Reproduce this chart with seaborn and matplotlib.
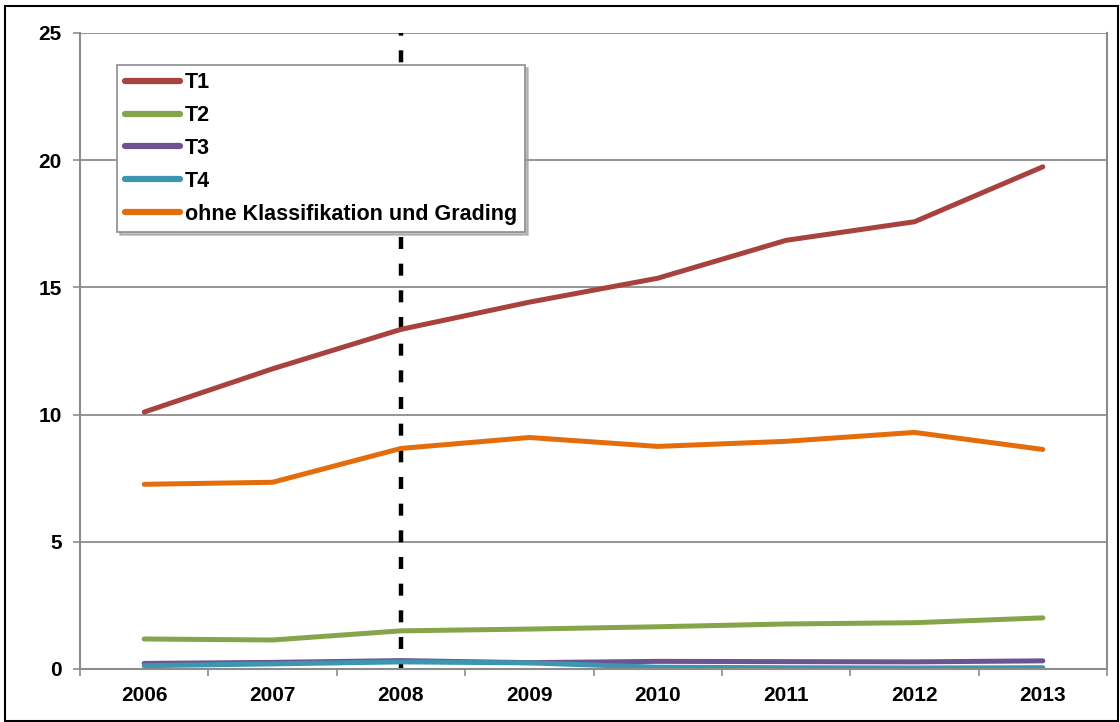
import matplotlib
matplotlib.use("Agg")
import matplotlib.pyplot as plt
import seaborn as sns
import pandas as pd
from matplotlib.patches import Rectangle
from matplotlib.ticker import FixedLocator

years = ["2006", "2007", "2008", "2009", "2010", "2011", "2012", "2013"]
t1 = [10.1, 11.8, 13.35, 14.42, 15.36, 16.85, 17.58, 19.74]
t2 = [1.18, 1.14, 1.50, 1.57, 1.66, 1.77, 1.82, 2.01]
t3 = [0.22, 0.26, 0.33, 0.25, 0.30, 0.29, 0.28, 0.32]
t4 = [0.13, 0.20, 0.28, 0.24, 0.07, 0.05, 0.04, 0.05]
ohne = [7.26, 7.34, 8.67, 9.10, 8.75, 8.95, 9.30, 8.63]
series_names = ["T1", "T2", "T3", "T4", "ohne Klassifikation und Grading"]
marker_year = "2008"

colors = ["#A8423F", "#86A44A", "#6E5393", "#3C96B0", "#E46C0A"]

sns.set_style("white")
plt.rcParams["font.family"] = ["Liberation Sans", "DejaVu Sans"]
plt.rcParams["font.weight"] = "bold"

rows = []
for name, vals in zip(series_names, [t1, t2, t3, t4, ohne]):
    for y, v in zip(years, vals):
        rows.append({"Jahr": y, "Wert": v, "Serie": name})
df = pd.DataFrame(rows)

fig = plt.figure(figsize=(11.2, 7.22), dpi=100)
ax = fig.add_axes([80 / 1120, 1 - 669 / 722, (1107 - 80) / 1120, (669 - 33) / 722])

sns.lineplot(data=df, x="Jahr", y="Wert", hue="Serie", hue_order=series_names,
             palette=colors, linewidth=3.6, ax=ax, sort=False,
             solid_capstyle="round", legend=True)

ax.set_xlim(-0.5, len(years) - 0.5)
ax.set_ylim(0, 25)
ax.set_yticks([0, 5, 10, 15, 20, 25])
ax.set_xticks(range(len(years)))
ax.set_xticklabels(years)
ax.xaxis.set_minor_locator(FixedLocator([i + 0.5 for i in range(-1, len(years))]))
ax.set_xlabel("")
ax.set_ylabel("")

# vertical dashed line at 2008
xpos = years.index(marker_year)
ax.axvline(xpos, color="black", lw=3.2, linestyle=(1.5, (2.7, 3.3)), zorder=1)

ax.grid(axis="y", color="#8C8C8C", lw=1.3)
ax.grid(axis="x", visible=False)
ax.set_axisbelow(True)
for s in ["left", "bottom", "right"]:
    ax.spines[s].set_color("#8C8C8C")
    ax.spines[s].set_linewidth(1.5)
ax.spines["top"].set_visible(False)

ax.tick_params(axis="x", which="major", length=0, pad=12, labelsize=15, labelcolor="black")
ax.tick_params(axis="x", which="minor", length=5, width=1.2, color="#8C8C8C", direction="out", bottom=True)
ax.tick_params(axis="y", which="major", length=5, width=1.2, color="#8C8C8C", direction="out", pad=8, labelsize=15, left=True, labelcolor="black")
for lab in ax.get_xticklabels() + ax.get_yticklabels():
    lab.set_fontweight("bold")

handles, labels = ax.get_legend_handles_labels()
leg = ax.legend(handles, labels, loc="upper left", bbox_to_anchor=(0.036, 0.95),
                prop={"size": 15.5, "weight": "bold"}, frameon=True, fancybox=False,
                shadow={"color": "#999999", "alpha": 0.6}, handlelength=2.6, handletextpad=0.22,
                labelspacing=0.55, borderpad=0.35, borderaxespad=0)
leg.get_frame().set_edgecolor("#8C8C8C")
leg.get_frame().set_linewidth(1.2)
for t in leg.get_texts():
    t.set_color("black")
for h in leg.get_lines():
    h.set_linewidth(4.5)
    h.set_solid_capstyle("round")

fig.patches.append(Rectangle((5 / 1120, 1 / 722), 1113 / 1120, (716 - 1) / 722,
                             transform=fig.transFigure, fill=False, edgecolor="black", lw=1.5))

fig.savefig("out.png", dpi=100)
